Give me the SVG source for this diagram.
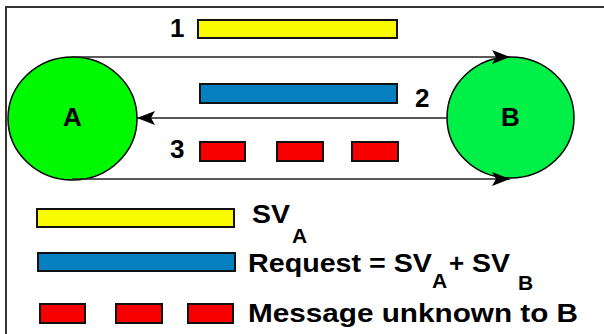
<svg xmlns="http://www.w3.org/2000/svg" width="604" height="334" viewBox="0 0 604 334">
  <style>
    .lbl { font-family: "Liberation Sans", Arial, sans-serif; font-weight: bold; fill: #000; }
    .big { font-size: 26px; }
    .sub { font-size: 21px; }
    .node { stroke: #000; stroke-width: 1.5; }
    .bar { stroke: #111; stroke-width: 2; }
    .y { fill: #FAFA00; }
    .b { fill: #0480C0; }
    .r { fill: #F80000; }
    .conn { stroke: #222; stroke-width: 1.6; fill: none; }
  </style>
  <defs>
    <marker id="ah" markerUnits="userSpaceOnUse" markerWidth="18" markerHeight="14" refX="18" refY="7" orient="auto">
      <path d="M0,0 L18,7 L0,14 L4,7 Z" fill="#000"/>
    </marker>
  </defs>
  <rect width="604" height="334" fill="#fff"/>
  <g id="frame">
    <rect x="6" y="7" width="640" height="360" fill="none" stroke="#333" stroke-width="2"/>
  </g>

  <g id="nodeA">
    <ellipse class="node" cx="72.5" cy="118.5" rx="64.5" ry="61.5" fill="#00F800"/>
    <text class="lbl big" x="72.5" y="126" text-anchor="middle">A</text>
  </g>
  <g id="nodeB">
    <ellipse class="node" cx="510.5" cy="117.5" rx="63.5" ry="60.5" fill="#00F048"/>
    <text class="lbl big" x="510.5" y="126" text-anchor="middle">B</text>
  </g>

  <g id="connectors">
    <line class="conn" x1="72" y1="57" x2="510" y2="57" marker-end="url(#ah)"/>
    <line class="conn" x1="447" y1="118" x2="137" y2="118" marker-end="url(#ah)"/>
    <line class="conn" x1="72" y1="179" x2="510" y2="179" marker-end="url(#ah)"/>
  </g>

  <g id="msg1">
    <text class="lbl big" x="170" y="37">1</text>
    <rect class="bar y" x="198" y="20" width="199" height="18"/>
  </g>
  <g id="msg2">
    <rect class="bar b" x="200" y="84" width="197" height="19"/>
    <text class="lbl big" x="415" y="107">2</text>
  </g>
  <g id="msg3">
    <text class="lbl big" x="170" y="158">3</text>
    <rect class="bar r" x="200" y="142" width="45" height="19"/>
    <rect class="bar r" x="277" y="142" width="46" height="19"/>
    <rect class="bar r" x="352" y="142" width="46" height="19"/>
  </g>

  <g id="legend">
    <rect class="bar y" x="37" y="209" width="197" height="18"/>
    <text class="lbl big" x="252" y="223" textLength="38" lengthAdjust="spacingAndGlyphs">SV</text>
    <text class="lbl sub" x="292" y="243">A</text>

    <rect class="bar b" x="38" y="253" width="197" height="18"/>
    <text class="lbl big" x="248" y="272" textLength="184" lengthAdjust="spacingAndGlyphs">Request = SV</text>
    <text class="lbl sub" x="432" y="288">A</text>
    <text class="lbl big" x="449" y="272">+</text>
    <text class="lbl big" x="472" y="272" textLength="38" lengthAdjust="spacingAndGlyphs">SV</text>
    <text class="lbl sub" x="518" y="290">B</text>

    <rect class="bar r" x="40" y="304" width="45" height="19"/>
    <rect class="bar r" x="116" y="304" width="46" height="19"/>
    <rect class="bar r" x="188" y="304" width="45" height="19"/>
    <text class="lbl big" x="248" y="322" textLength="330" lengthAdjust="spacingAndGlyphs">Message unknown to B</text>
  </g>
</svg>
